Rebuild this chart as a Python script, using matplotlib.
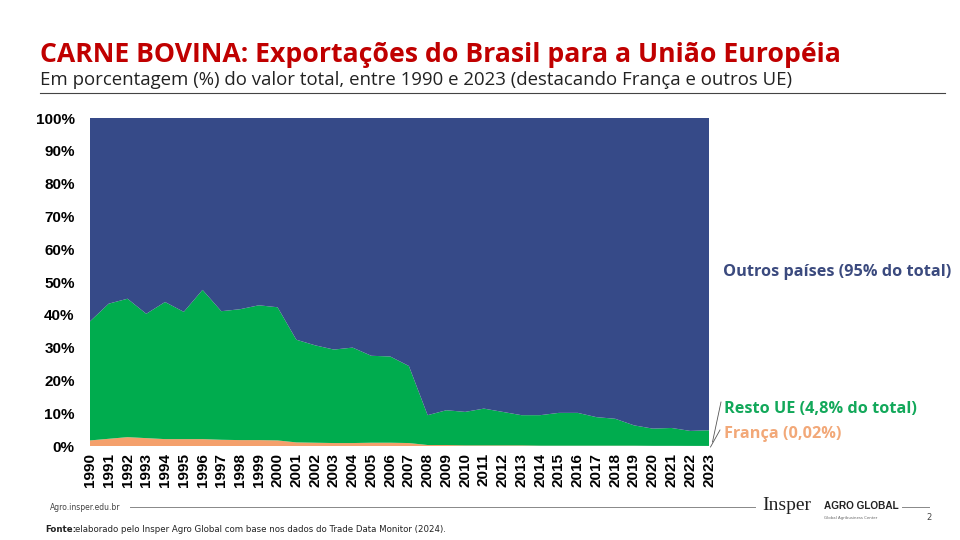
import numpy as np
import matplotlib.pyplot as plt
from matplotlib.lines import Line2D

# data (% of export value)
years = list(range(1990, 2024))
franca = [1.7, 2.2, 2.7, 2.4, 2.1, 2.1, 2.1, 1.9, 1.8, 1.8, 1.7, 1.1, 1.0, 0.9, 0.9, 1.0, 1.0,
          0.9, 0.3, 0.3, 0.2, 0.2, 0.2, 0.2, 0.1, 0.1, 0.1, 0.1, 0.1, 0.1, 0.05, 0.05, 0.03, 0.02]
resto_ue = [36.3, 41.2, 42.2, 37.9, 41.8, 38.8, 45.5, 39.2, 39.9, 41.1, 40.6, 31.3, 29.7, 28.5,
            29.1, 26.5, 26.3, 23.5, 9.1, 10.6, 10.2, 11.2, 10.2, 9.2, 9.3, 10.0, 10.0, 8.7, 8.2,
            6.2, 5.25, 5.45, 4.57, 4.78]
outros = [100 - f - r for f, r in zip(franca, resto_ue)]
yticks = [0, 10, 20, 30, 40, 50, 60, 70, 80, 90, 100]

c_fr = '#F4A06C'
c_ue = '#00AC4E'
c_ou = '#364A88'
red = '#C00000'

fig = plt.figure(figsize=(9.6, 5.4), dpi=100)
ax = fig.add_axes([90/960, 94/540, 619/960, 328/540])
ax.stackplot(years, franca, resto_ue, outros, colors=[c_fr, c_ue, c_ou], linewidth=0)
ax.set_xlim(1990, 2023)
ax.set_ylim(0, 100)
ax.set_yticks(yticks)
ax.set_yticklabels([f'{v}%' for v in yticks], fontsize=11, fontweight='bold',
                   family='Liberation Sans')
ax.set_xticks(years)
ax.set_xticklabels([str(y) for y in years], rotation=90, fontsize=11, fontweight='bold',
                   family='Liberation Sans')
ax.tick_params(axis='y', length=0, pad=11)
ax.tick_params(axis='x', length=0, pad=5)
for s in ax.spines.values():
    s.set_visible(False)

# header
fig.text(40/960, 1 - 55/540, 'CARNE BOVINA: Exportações do Brasil para a União Européia',
         color=red, fontsize=19.2, fontweight='bold', family='Open Sans', va='center')
fig.text(40/960, 1 - 80/540,
         'Em porcentagem (%) do valor total, entre 1990 e 2023 (destacando França e outros UE)',
         color='#222222', fontsize=13.4, family='Open Sans', va='center')
fig.add_artist(Line2D([40/960, 945/960], [1 - 93/540, 1 - 93/540], color='#444444', lw=0.8))

# series labels
fig.text(723/960, 1 - 272/540, 'Outros países (95% do total)', color='#3B4A7E',
         fontsize=11.7, fontweight='bold', family='Open Sans', va='center')
fig.text(724/960, 1 - 409/540, 'Resto UE (4,8% do total)', color='#12A85A',
         fontsize=11.7, fontweight='bold', family='Open Sans', va='center')
fig.text(724/960, 1 - 434/540, 'França (0,02%)', color='#F2A878',
         fontsize=11.7, fontweight='bold', family='Open Sans', va='center')
fig.add_artist(Line2D([712.5/960, 721/960], [1 - 442/540, 1 - 402/540], color='#555555', lw=0.6))
fig.add_artist(Line2D([710.5/960, 720/960], [1 - 447/540, 1 - 430/540], color='#555555', lw=0.6))

# footer
fig.text(50/960, 1 - 507/540, 'Agro.insper.edu.br', fontsize=5.5, color='#444444', va='center')
fig.add_artist(Line2D([130/960, 755/960], [1 - 507/540, 1 - 507/540], color='#888888', lw=0.7))
fig.text(762/960, 1 - 506/540, 'Insper', fontsize=14, family='Liberation Serif', color='#222222',
         va='center')
fig.text(824/960, 1 - 506/540, 'AGRO GLOBAL', fontsize=7.2, fontweight='bold', color='#222222',
         family='Liberation Sans', va='center')
fig.text(824/960, 1 - 518/540, 'Global Agribusiness Center', fontsize=2.8, color='#666666',
         va='center')
fig.add_artist(Line2D([902/960, 929/960], [1 - 507/540, 1 - 507/540], color='#888888', lw=0.7))
fig.text(926/960, 1 - 518/540, '2', fontsize=6, color='#444444', va='center')
fig.text(45/960, 1 - 529/540, 'Fonte:', fontsize=6.2, fontweight='bold', color='#222222',
         va='center')
fig.text(75/960, 1 - 529/540,
         'elaborado pelo Insper Agro Global com base nos dados do Trade Data Monitor (2024).',
         fontsize=6.2, color='#222222', va='center')

fig.savefig('out.png', dpi=100)
